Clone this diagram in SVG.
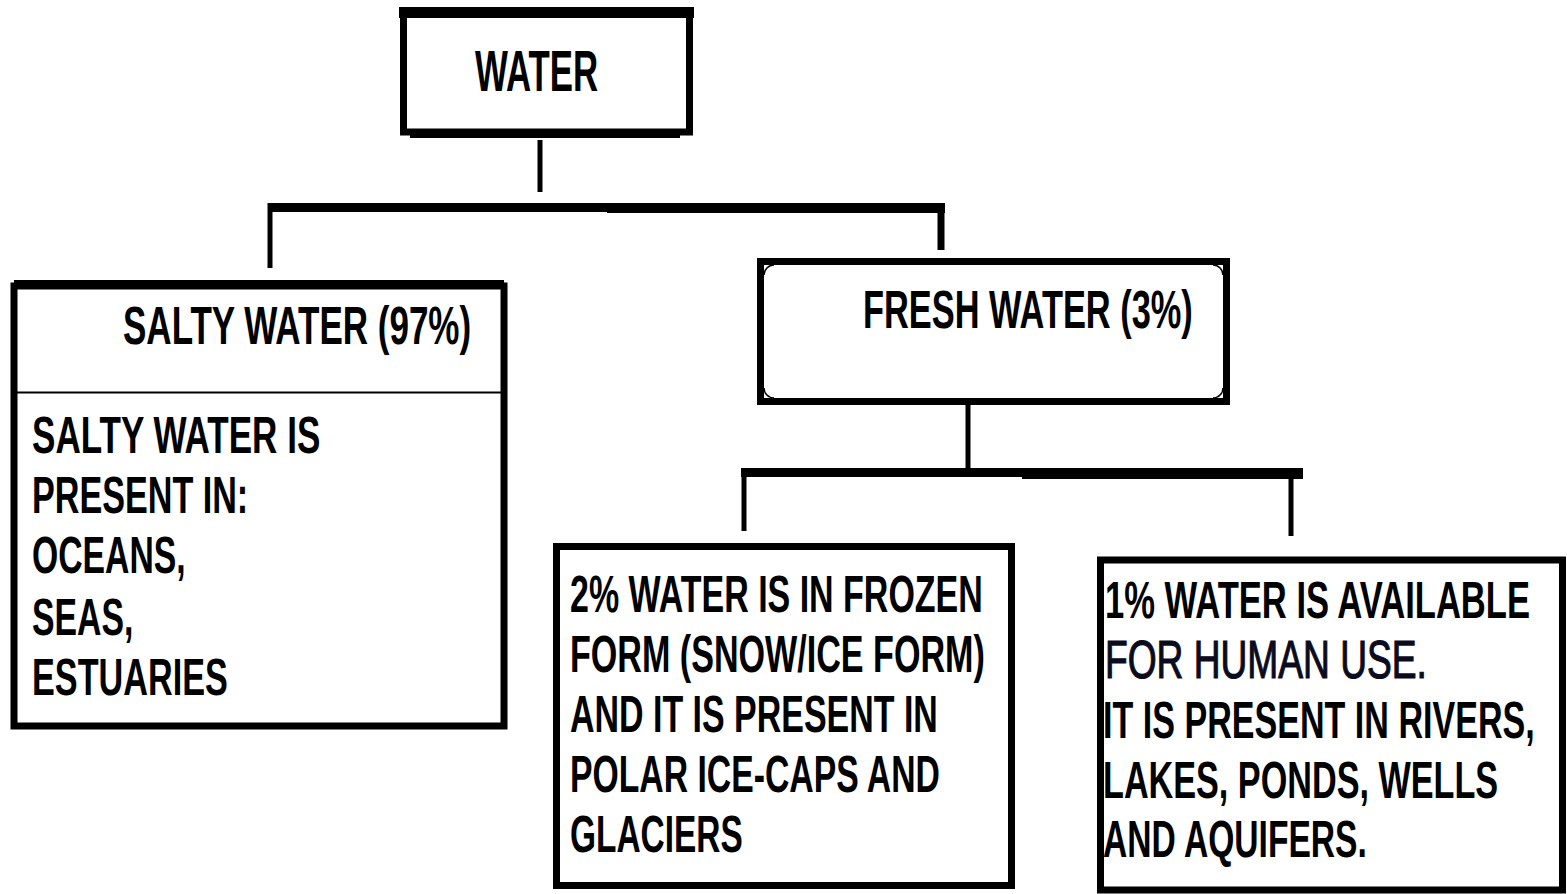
<svg xmlns="http://www.w3.org/2000/svg" width="1567" height="894" viewBox="0 0 1567 894">
<style>
.box{fill:#fff;stroke:#000;stroke-width:7}
.t{font-family:"Liberation Sans",Arial,sans-serif;font-weight:bold;fill:#000}
.c{stroke:#000;fill:none}
</style>
<rect width="1567" height="894" fill="#fff"/>
<g id="connectors">
  <line class="c" x1="540" y1="140" x2="540" y2="192" stroke-width="5"/>
  <line class="c" x1="270" y1="203" x2="270" y2="268" stroke-width="5"/>
  <line class="c" x1="268" y1="207.5" x2="607" y2="207.5" stroke-width="9"/>
  <line class="c" x1="607" y1="208" x2="945" y2="208" stroke-width="10"/>
  <line class="c" x1="941" y1="203" x2="941" y2="250" stroke-width="7"/>
  <line class="c" x1="968" y1="400" x2="968" y2="470" stroke-width="5"/>
  <line class="c" x1="741" y1="472.5" x2="1022" y2="472.5" stroke-width="9"/>
  <line class="c" x1="1022" y1="473.5" x2="1303" y2="473.5" stroke-width="11"/>
  <line class="c" x1="744" y1="470" x2="744" y2="531" stroke-width="5"/>
  <line class="c" x1="1291" y1="470" x2="1291" y2="536" stroke-width="5"/>
</g>
<g id="water">
  <rect class="box" x="403.5" y="14" width="286" height="118"/>
  <line class="c" x1="399" y1="12.5" x2="694" y2="12.5" stroke-width="11"/>
  <line class="c" x1="410" y1="134" x2="680" y2="134" stroke-width="8"/>
  <text class="t" transform="translate(475 91) scale(0.68 1)" font-size="58" textLength="181" lengthAdjust="spacingAndGlyphs">WATER</text>
</g>
<g id="salty">
  <rect class="box" x="14" y="286" width="490" height="440" stroke-width="6"/>
  <line class="c" x1="14" y1="284" x2="504" y2="284" stroke-width="8"/>
  <line class="c" x1="17" y1="392.5" x2="501" y2="392.5" stroke-width="2"/>
  <text class="t" transform="translate(123 344) scale(0.68 1)" font-size="54" textLength="512" lengthAdjust="spacingAndGlyphs">SALTY WATER (97%)</text>
  <text class="t" transform="translate(32 453) scale(0.68 1)" font-size="51" textLength="424" lengthAdjust="spacingAndGlyphs">SALTY WATER IS</text>
  <text class="t" transform="translate(32 513) scale(0.68 1)" font-size="51" textLength="318" lengthAdjust="spacingAndGlyphs">PRESENT IN:</text>
  <text class="t" transform="translate(32 573) scale(0.68 1)" font-size="51" textLength="226" lengthAdjust="spacingAndGlyphs">OCEANS,</text>
  <text class="t" transform="translate(32 635) scale(0.68 1)" font-size="51" textLength="149" lengthAdjust="spacingAndGlyphs">SEAS,</text>
  <text class="t" transform="translate(32 695) scale(0.68 1)" font-size="51" textLength="288" lengthAdjust="spacingAndGlyphs">ESTUARIES</text>
</g>
<g id="fresh">
  <rect class="box" x="760.5" y="261.5" width="466" height="140"/>
  <path d="M764 275 A10 10 0 0 1 774 265 M1213 265 A10 10 0 0 1 1223 275 M1223 388 A10 10 0 0 1 1213 398 M774 398 A10 10 0 0 1 764 388" fill="none" stroke="#000" stroke-width="1.5"/>
  <text class="t" transform="translate(863 328) scale(0.68 1)" font-size="53" textLength="485" lengthAdjust="spacingAndGlyphs">FRESH WATER (3%)</text>
</g>
<g id="frozen">
  <rect class="box" x="556.5" y="546.5" width="455" height="339"/>
  <text class="t" transform="translate(570 612) scale(0.68 1)" font-size="51" textLength="607" lengthAdjust="spacingAndGlyphs">2% WATER IS IN FROZEN</text>
  <text class="t" transform="translate(570 672) scale(0.68 1)" font-size="51" textLength="610" lengthAdjust="spacingAndGlyphs">FORM (SNOW/ICE FORM)</text>
  <text class="t" transform="translate(570 732) scale(0.68 1)" font-size="51" textLength="541" lengthAdjust="spacingAndGlyphs">AND IT IS PRESENT IN</text>
  <text class="t" transform="translate(570 792) scale(0.68 1)" font-size="51" textLength="544" lengthAdjust="spacingAndGlyphs">POLAR ICE-CAPS AND</text>
  <text class="t" transform="translate(570 852) scale(0.68 1)" font-size="51" textLength="254" lengthAdjust="spacingAndGlyphs">GLACIERS</text>
</g>
<g id="human">
  <rect class="box" x="1100.5" y="560" width="462" height="330"/>
  <text class="t" transform="translate(1105 618) scale(0.68 1)" font-size="51" textLength="625" lengthAdjust="spacingAndGlyphs">1% WATER IS AVAILABLE</text>
  <text transform="translate(1105 678) scale(0.72 1)" font-family="'Liberation Sans',Arial,sans-serif" font-size="53" fill="#0b0b1e" stroke="#0b0b1e" stroke-width="1.2" textLength="447" lengthAdjust="spacingAndGlyphs">FOR HUMAN USE.</text>
  <text class="t" transform="translate(1103 738) scale(0.68 1)" font-size="51" textLength="635" lengthAdjust="spacingAndGlyphs">IT IS PRESENT IN RIVERS,</text>
  <text class="t" transform="translate(1103 798) scale(0.68 1)" font-size="51" textLength="581" lengthAdjust="spacingAndGlyphs">LAKES, PONDS, WELLS</text>
  <text class="t" transform="translate(1103 857) scale(0.68 1)" font-size="51" textLength="388" lengthAdjust="spacingAndGlyphs">AND AQUIFERS.</text>
</g>
</svg>
